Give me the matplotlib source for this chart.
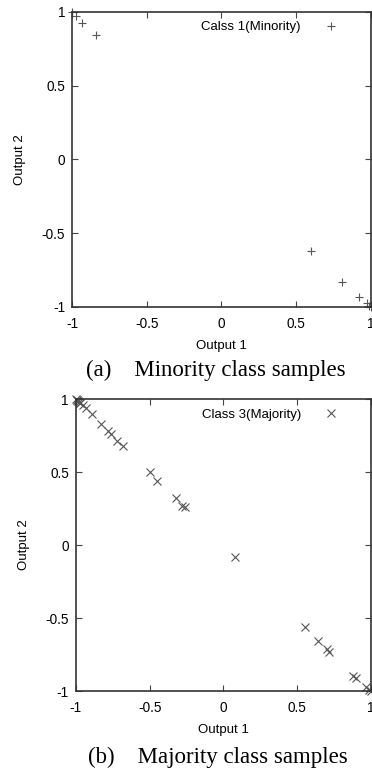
import matplotlib
matplotlib.use("Agg")
import matplotlib.pyplot as plt

# Class 1 (minority) samples
min_x = [-1.0, -0.975, -0.93, -0.84, 0.60, 0.81, 0.92, 0.975, 1.0, 0.99]
min_y = [1.0, 0.975, 0.925, 0.845, -0.62, -0.83, -0.93, -0.975, -1.0, -0.99]

# Class 3 (majority) samples
maj_x = [-1.0, -0.995, -0.99, -0.985, -0.98, -0.975, -0.97, -0.95, -0.93, -0.89,
         -0.83, -0.78, -0.76, -0.72, -0.68, -0.50, -0.45, -0.32, -0.28, -0.26,
         0.08, 0.555, 0.64, 0.70, 0.715, 0.88, 0.90, 0.97, 0.99, 1.0]
maj_y = [1.0, 0.995, 0.99, 0.985, 0.98, 0.975, 0.97, 0.96, 0.94, 0.90,
         0.83, 0.78, 0.76, 0.71, 0.68, 0.50, 0.44, 0.32, 0.27, 0.26,
         -0.08, -0.56, -0.66, -0.71, -0.73, -0.90, -0.91, -0.97, -0.99, -1.0]

ticks = [-1, -0.5, 0, 0.5, 1]
tick_labels = ["-1", "-0.5", "0", "0.5", "1"]

sans = "Liberation Sans"
serif = "Liberation Serif"
grey = "#555555"

fig = plt.figure(figsize=(3.72, 7.69), dpi=100)


def setup(ax, xs, ys, marker, label, caption, cap_y):
    ax.plot(xs, ys, linestyle="none", marker=marker, markersize=5.5,
            markeredgewidth=0.8, color=grey, clip_on=False, label=label)
    ax.set_xlim(-1, 1)
    ax.set_ylim(-1, 1)
    ax.set_xticks(ticks)
    ax.set_yticks(ticks)
    ax.set_xticklabels(tick_labels, fontfamily=sans, fontsize=9.8)
    ax.set_yticklabels(tick_labels, fontfamily=sans, fontsize=9.8)
    ax.tick_params(direction="in", length=4, width=0.8, color="#444444",
                   top=True, right=True, pad=5)
    ax.tick_params(axis="x", pad=7.5)
    for s in ax.spines.values():
        s.set_linewidth(1.2)
        s.set_color("#333333")
    ax.set_xlabel("Output 1", fontfamily=sans, fontsize=9.5, labelpad=6)
    ax.set_ylabel("Output 2", fontfamily=sans, fontsize=9.5, labelpad=11)
    ax.legend(loc="upper right", frameon=False, markerfirst=False,
              prop={"family": sans, "size": 9.5}, handlelength=1.5,
              handletextpad=1.5, borderaxespad=0.3, bbox_to_anchor=(0.93, 1.0))
    ax.text(0.48, cap_y, caption, transform=ax.transAxes, ha="center",
            va="center", fontfamily=serif, fontsize=16.5)


ax1 = fig.add_axes([0.1935, 0.6008, 0.803, 0.3836])
setup(ax1, min_x, min_y, "+", "Calss 1(Minority)",
      "(a)    Minority class samples", -0.2135)

ax2 = fig.add_axes([0.204, 0.1014, 0.793, 0.3797])
setup(ax2, maj_x, maj_y, "x", "Class 3(Majority)",
      "(b)    Majority class samples", -0.227)

fig.savefig("out.png", dpi=100)
